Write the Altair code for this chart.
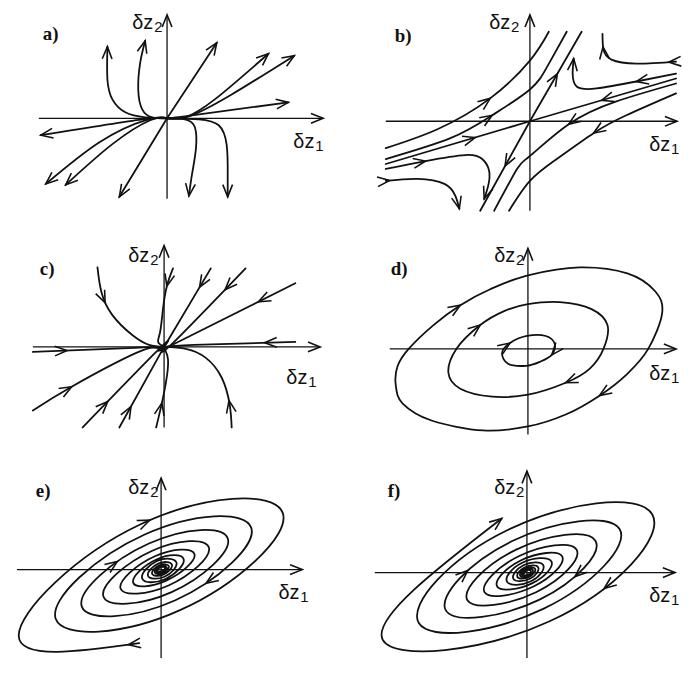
import math
import altair as alt
import pandas as pd

# ------------------------------------------------------------------
# Values.
# Every coordinate is in pixels measured from the panel's origin,
# δz1 to the right and δz2 upwards.  Curves are listed in flow order.
# ------------------------------------------------------------------

# a) unstable node
A_CURVES = [
    [(0, 0), (-22, 1), (-42, 6), (-55, 19), (-60, 39), (-60, 72)],
    [(0, 0), (-15, 1), (-25, 9), (-29, 29), (-27, 56), (-22, 78)],
    [(0, 0), (18, -1), (28, -9), (29, -31), (25, -57), (22, -78)],
    [(0, 0), (32, -1), (52, -7), (60, -27), (61, -57), (61, -79)],
    [(0, 0), (50, 76)],
    [(0, 0), (18, 1), (48, 19), (102, 65)],
    [(0, 0), (22, 2), (65, 24), (128, 63)],
    [(0, 0), (25, 3), (122, 16)],
    [(0, 0), (-25, -1), (-127, -17)],
    [(0, 0), (-22, -2), (-68, -24), (-122, -66)],
    [(0, 0), (-17, -2), (-55, -26), (-102, -67)],
    [(0, 0), (-48, -79)],
]
# arrowheads: (curve, position along the curve's point index)
A_ARROWS = [(0, 5), (1, 5), (2, 5), (3, 5), (4, 1), (5, 3), (6, 3), (7, 2),
            (8, 2), (9, 3), (10, 3), (11, 1)]

# b) saddle
B_CURVES = [
    [(-145, -43), (0, 0)],
    [(147, 43), (0, 0)],
    [(0, 0), (52, 90)],
    [(0, 0), (-50, -90)],
    [(-145, -27), (-93, -8), (-40, 23), (0, 61), (19, 90)],
    [(-145, -38), (-80, -17), (-38, 6), (0, 32), (18, 56), (37, 90)],
    [(-145, -48), (-105, -40), (-65, -34), (-48, -38), (-41, -50), (-42, -65), (-46, -78)],
    [(-145, -60), (-113, -58), (-86, -63), (-75, -75), (-71, -88)],
    [(147, 60), (107, 58), (82, 62), (74, 72), (73, 88)],
    [(147, 48), (107, 40), (67, 33), (47, 35), (43, 48), (44, 63)],
    [(147, 38), (87, 20), (39, -3), (0, -35), (-13, -48), (-36, -90)],
    [(147, 28), (97, 6), (64, -12), (27, -38), (0, -60), (-21, -90)],
]
B_ARROWS = [(0, 0.62), (1, 0.51), (2, 0.53), (3, 0.5), (4, 2), (5, 2), (6, 1), (6, 6),
            (7, 0.12), (7, 4), (8, 0.17), (8, 3.2), (9, 1), (9, 5), (10, 2), (11, 2)]

# c) stable node
C_CURVES = [
    [(-67, 80), (-63, 55), (-52, 32), (-32, 12), (-15, 2), (0, 0)],
    [(9, 79), (3, 62), (-1, 39), (-4, 15), (-6, 5), (0, 0)],
    [(-8, -81), (-3, -60), (2, -35), (4, -13), (1, -3), (0, 0)],
    [(47, 79), (0, 0)],
    [(82, 79), (8, 3), (0, 0)],
    [(132, 64), (10, 3), (0, 0)],
    [(132, 5), (30, 2), (0, 0)],
    [(68, -81), (66, -58), (58, -31), (42, -11), (22, -2), (0, 0)],
    [(-132, -5), (-30, -1), (0, 0)],
    [(-132, -64), (-93, -40), (-28, -6), (-8, -1), (0, 0)],
    [(-82, -81), (-5, -2), (0, 0)],
    [(-45, -81), (0, 0)],
]
C_ARROWS = [(0, 1.45), (1, 1.05), (2, 1.15), (3, 0.24), (4, 0.23), (5, 0.25), (6, 0.26),
            (7, 1.15), (8, 0.29), (9, 1.0), (10, 0.27), (11, 0.26)]

# d) centre: three closed orbits
D_OUTER = [(-133, -36), (-131, -17), (-120, 0), (-95, 24), (-68, 44), (-38, 60), (0, 74),
           (52, 82), (100, 76), (128, 58), (135, 36), (121, 0), (100, -25), (72, -47),
           (38, -66), (0, -78), (-45, -82), (-97, -72), (-126, -55)]
D_MIDDLE = [(-80, -24), (-72, 0), (-48, 24), (-24, 38), (0, 45), (32, 47), (64, 40),
            (80, 24), (76, 0), (62, -20), (38, -34), (0, -46), (-36, -48), (-68, -40)]
D_INNER = [(-26, -4), (-18, 6), (-1, 13), (18, 13), (27, 5), (24, -6), (12, -13),
           (-2, -17), (-20, -15)]
D_ARROWS = [(0, 4), (0, 13), (1, 2), (1, 10), (2, 1), (2, 5)]

# e), f) foci: tilt of the orbits and the distance of the orbit from the
# origin at every quarter turn (left, top, right, bottom, left, ...)
SPIRAL_TILT_DEG = 25
E_START = (-22, -74)
E_RADII = [158, 50, 135, 45, 117, 39, 100, 34, 88, 29, 74, 25, 64, 21, 53, 17.6,
           45, 14.8, 37, 12.2, 31, 11.2, 25, 10.4, 21, 9.5, 17, 7.9, 14.5, 6.6, 12, 5.5,
           10, 4.6, 8.5, 3.9, 7, 3.2, 6, 2.7, 5, 2.3, 4.2, 2, 3.6]
E_ARROWS = [(0, 0.06), (0, 2.05), (0, 7.75), (0, 9.7)]
F_RADII = [3.6, 2, 4.2, 2.3, 5.5, 3, 6.5, 3.5, 7.5, 4.1, 9, 4.9, 10.5, 5.7, 12.5, 6.9,
           15, 8.2, 18, 9.6, 22, 11, 27, 12, 33, 13.7, 39, 15.5, 47, 18.4, 55, 21.8,
           66, 25.5, 76, 30, 90, 35, 103, 40, 120, 47, 139, 54, 160, 60]
F_ARROWS = [(0, 34.63), (0, 36.6), (0, 42.7), (0, 45)]

# ------------------------------------------------------------------
# layout (panel cell size, origin inside the cell, axis extents, labels)
# ------------------------------------------------------------------
W, H = 338, 218
LAYOUT = {
    "a": dict(origin=(160, 109), xaxis=(-129, 157), yaxis=(-81, 104), lab2=(-35, 90), lab1=(127, -30), tag=(-125, 79)),
    "b": dict(origin=(187, 112), xaxis=(-145, 148), yaxis=(-90, 107), lab2=(-41, 93), lab1=(120, -30), tag=(-136, 80)),
    "c": dict(origin=(157, 121), xaxis=(-132, 157), yaxis=(-81, 102), lab2=(-36, 85), lab1=(123, -37), tag=(-125, 72)),
    "d": dict(origin=(185, 123), xaxis=(-139, 149), yaxis=(-86, 101), lab2=(-34, 87), lab1=(122, -31), tag=(-138, 74)),
    "e": dict(origin=(154, 127), xaxis=(-145, 142), yaxis=(-89, 92), lab2=(-33, 76), lab1=(118, -30), tag=(-126, 73)),
    "f": dict(origin=(184, 130), xaxis=(-153, 149), yaxis=(-86, 102), lab2=(-33, 79), lab1=(123, -30), tag=(-140, 76)),
}
INK = "#111111"
ARROW_SHAPE = "M-1,-0.4L0,0L-1,0.4"
ARROW_SIZE = 600


def spiral_points(radii):
    t = math.radians(SPIRAL_TILT_DEG)
    u = (math.cos(t), math.sin(t))
    v = (-math.sin(t), math.cos(t))
    dirs = [(-u[0], -u[1]), v, u, (-v[0], -v[1])]
    return [(r * dirs[j % 4][0], r * dirs[j % 4][1]) for j, r in enumerate(radii)]


# --- helpers that follow the curve the renderer draws (d3 natural / closed cardinal)
def _nat_ctrl(v):
    n = len(v) - 1
    a = [0.0] * n
    b = [0.0] * n
    r = [0.0] * n
    a[0], b[0], r[0] = 0.0, 2.0, v[0] + 2 * v[1]
    for i in range(1, n - 1):
        a[i], b[i], r[i] = 1.0, 4.0, 4 * v[i] + 2 * v[i + 1]
    a[n - 1], b[n - 1], r[n - 1] = 2.0, 7.0, 8 * v[n - 1] + v[n]
    for i in range(1, n):
        m = a[i] / b[i - 1]
        b[i] -= m
        r[i] -= m * r[i - 1]
    a[n - 1] = r[n - 1] / b[n - 1]
    for i in range(n - 2, -1, -1):
        a[i] = (r[i] - a[i + 1]) / b[i]
    b[n - 1] = (v[n] + a[n - 1]) / 2
    for i in range(n - 1):
        b[i] = 2 * v[i + 1] - a[i + 1]
    return a, b


def _bez(p0, c1, c2, p1, t):
    mt = 1 - t
    pos = mt ** 3 * p0 + 3 * mt * mt * t * c1 + 3 * mt * t * t * c2 + t ** 3 * p1
    der = 3 * mt * mt * (c1 - p0) + 6 * mt * t * (c2 - c1) + 3 * t * t * (p1 - c2)
    return pos, der


def natural_at(pts, s):
    xs = [p[0] for p in pts]
    ys = [p[1] for p in pts]
    n = len(pts) - 1
    i = min(int(math.floor(s)), n - 1)
    t = s - i
    if n == 1:
        return (xs[0] + t * (xs[1] - xs[0]), ys[0] + t * (ys[1] - ys[0]),
                xs[1] - xs[0], ys[1] - ys[0])
    ax, bx = _nat_ctrl(xs)
    ay, by = _nat_ctrl(ys)
    px, dx = _bez(xs[i], ax[i], bx[i], xs[i + 1], t)
    py, dy = _bez(ys[i], ay[i], by[i], ys[i + 1], t)
    return px, py, dx, dy


def closed_at(pts, s):
    n = len(pts)
    i = int(math.floor(s)) % n
    t = s - math.floor(s)
    p0, p1, p2, p3 = pts[(i - 1) % n], pts[i], pts[(i + 1) % n], pts[(i + 2) % n]
    out = []
    for k in range(2):
        c1 = p1[k] + (p2[k] - p0[k]) / 6
        c2 = p2[k] - (p3[k] - p1[k]) / 6
        out.append(_bez(p1[k], c1, c2, p2[k], t))
    return out[0][0], out[1][0], out[0][1], out[1][1]


def screen_angle(dx, dy):
    return math.degrees(math.atan2(-dy, dx)) % 360


CONTENT = {
    "a": (A_CURVES, "natural", A_ARROWS),
    "b": (B_CURVES, "natural", B_ARROWS),
    "c": (C_CURVES, "natural", C_ARROWS),
    "d": ([D_OUTER, D_MIDDLE, D_INNER], "cardinal-closed", D_ARROWS),
    "e": ([[E_START] + spiral_points(E_RADII)], "natural", E_ARROWS),
    "f": ([spiral_points(F_RADII)], "natural", F_ARROWS),
}


def build_panel(key):
    L = LAYOUT[key]
    ox, oy = L["origin"]
    xsc = alt.Scale(domain=[-ox, W - ox], nice=False, zero=False)
    ysc = alt.Scale(domain=[oy - H, oy], nice=False, zero=False)
    X = alt.X("x:Q", scale=xsc, axis=None)
    Y = alt.Y("y:Q", scale=ysc, axis=None)

    x0, x1 = L["xaxis"]
    y0, y1 = L["yaxis"]
    axes_df = pd.DataFrame({"x": [x0, 0], "x2": [x1, 0], "y": [0, y0], "y2": [0, y1]})
    axes = alt.Chart(axes_df).mark_rule(color=INK, strokeWidth=1.3).encode(
        x=X, x2="x2:Q", y=Y, y2="y2:Q")

    curves, interp, arrows = CONTENT[key]
    rows = []
    for cid, c in enumerate(curves):
        for k, (x, y) in enumerate(c):
            rows.append({"cid": cid, "k": k, "x": x, "y": y})
    curve_df = pd.DataFrame(rows)
    lines = alt.Chart(curve_df).mark_line(
        interpolate=interp, color=INK, strokeWidth=1.8, strokeCap="round", strokeJoin="round"
    ).encode(x=X, y=Y, detail="cid:N", order=alt.Order("k:Q"))

    arr = [{"x": x1, "y": 0, "angle": 0.0}, {"x": 0, "y": y1, "angle": 270.0}]
    for cid, s in arrows:
        if interp == "natural":
            px, py, dx, dy = natural_at(curves[cid], s)
        else:
            px, py, dx, dy = closed_at(curves[cid], s)
        arr.append({"x": px, "y": py, "angle": screen_angle(dx, dy)})
    arrow_df = pd.DataFrame(arr)
    heads = alt.Chart(arrow_df).mark_point(
        shape=ARROW_SHAPE, filled=False, size=ARROW_SIZE, strokeWidth=1.6, color=INK,
        opacity=1, strokeJoin="miter"
    ).encode(x=X, y=Y, angle=alt.Angle("angle:Q", scale=None))

    main_df = pd.DataFrame({"x": [L["lab2"][0], L["lab1"][0]],
                            "y": [L["lab2"][1], L["lab1"][1]],
                            "text": ["δz", "δz"]})
    sub_df = pd.DataFrame({"x": [L["lab2"][0], L["lab1"][0]],
                           "y": [L["lab2"][1], L["lab1"][1]],
                           "text": ["2", "1"]})
    tag_df = pd.DataFrame({"x": [L["tag"][0]], "y": [L["tag"][1]], "text": [key + ")"]})

    main_txt = alt.Chart(main_df).mark_text(
        font="Liberation Sans", fontSize=20, align="left", baseline="alphabetic", color=INK
    ).encode(x=X, y=Y, text="text:N")
    sub_txt = alt.Chart(sub_df).mark_text(
        font="Liberation Sans", fontSize=15, align="left", baseline="alphabetic",
        dx=22, dy=3, color=INK
    ).encode(x=X, y=Y, text="text:N")
    tag_txt = alt.Chart(tag_df).mark_text(
        font="Liberation Serif", fontSize=19, fontWeight="bold", align="left",
        baseline="alphabetic", color=INK
    ).encode(x=X, y=Y, text="text:N")

    return alt.layer(axes, lines, heads, main_txt, sub_txt, tag_txt).properties(width=W, height=H)


chart = alt.concat(
    *[build_panel(k) for k in "abcdef"], columns=2, spacing=0, bounds="flush"
).properties(padding=0, background="white").configure_view(strokeWidth=0)

chart.save("out.html", embed_options={"renderer": "svg", "actions": False})
